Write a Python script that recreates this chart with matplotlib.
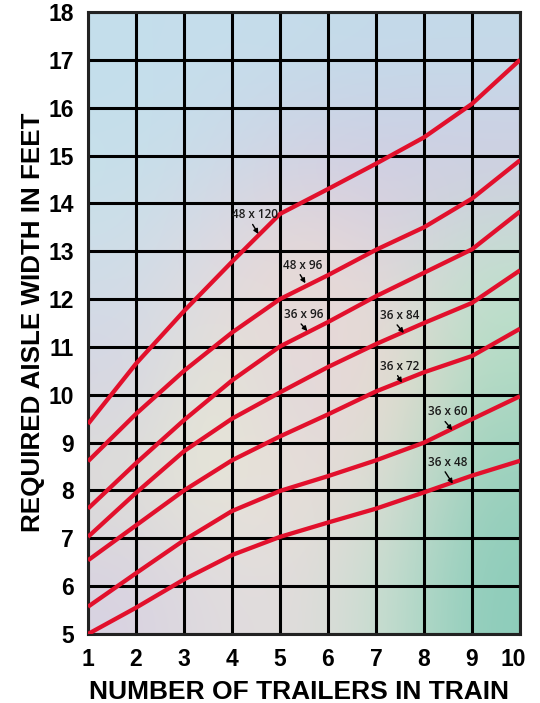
import numpy as np
import matplotlib
matplotlib.use("Agg")
import matplotlib.pyplot as plt
from matplotlib.transforms import ScaledTranslation

# ---- data ----
trailers = [1, 2, 3, 4, 5, 6, 7, 8, 9, 10]
w48x120 = [9.39, 10.65, 11.75, 12.78, 13.78, 14.3, 14.83, 15.38, 16.08, 17.0]
w48x96 = [8.61, 9.6, 10.5, 11.3, 12.0, 12.5, 13.03, 13.5, 14.1, 14.9]
w36x96 = [7.62, 8.57, 9.47, 10.3, 11.01, 11.52, 12.06, 12.55, 13.04, 13.83]
w36x84 = [7.03, 7.95, 8.82, 9.5, 10.05, 10.58, 11.06, 11.5, 11.92, 12.6]
w36x72 = [6.54, 7.27, 8.0, 8.63, 9.13, 9.59, 10.07, 10.47, 10.81, 11.38]
w36x60 = [5.57, 6.27, 6.96, 7.57, 7.99, 8.3, 8.63, 9.0, 9.49, 9.97]
w36x48 = [5.0, 5.55, 6.14, 6.65, 7.03, 7.33, 7.62, 7.96, 8.31, 8.62]
series = [w48x120, w48x96, w36x96, w36x84, w36x72, w36x60, w36x48]

labels = ["48 x 120", "48 x 96", "36 x 96", "36 x 84", "36 x 72", "36 x 60", "36 x 48"]
label_text_xy = [(4.48, 13.76), (5.47, 12.71), (5.49, 11.68), (7.49, 11.66),
                 (7.5, 10.6), (8.49, 9.64), (8.49, 8.59)]
label_tip_xy = [(4.55, 13.36), (5.53, 12.33), (5.57, 11.33), (7.58, 11.29),
                (7.54, 10.25), (8.59, 9.26), (8.6, 8.14)]

x_ticks = list(range(1, 11))
y_ticks = list(range(5, 19))

plt.rcParams['font.family'] = ['Liberation Sans', 'DejaVu Sans']

fig = plt.figure(figsize=(5.4, 7.03), dpi=100)
ax = fig.add_axes([88/540, 69/703, 432/540, 622/703])

# background gradient (rows top->bottom, cols left->right)
bg = np.array([
    [[196, 222, 236], [198, 222, 236], [196, 220, 234], [196, 218, 234], [196, 218, 233]],
    [[198, 224, 234], [204, 218, 232], [212, 206, 226], [208, 204, 226], [210, 204, 226]],
    [[208, 222, 232], [226, 214, 224], [238, 222, 208], [224, 214, 222], [194, 226, 206]],
    [[214, 212, 228], [230, 232, 212], [222, 210, 224], [238, 222, 206], [176, 218, 196]],
    [[222, 222, 214], [232, 232, 216], [232, 220, 216], [220, 222, 212], [152, 208, 188]],
    [[216, 210, 226], [224, 220, 222], [226, 220, 220], [196, 222, 206], [140, 204, 186]],
], dtype=float) / 255.0
ax.imshow(bg, extent=[1, 10, 5, 18], aspect='auto', interpolation='bicubic',
          origin='upper', zorder=0)

for v in x_ticks:
    ax.axvline(v, color='black', lw=2.2, zorder=1)
for v in y_ticks:
    ax.axhline(v, color='black', lw=2.2, zorder=1)

for s in series:
    ax.plot(trailers, s, color='#e2102c', lw=3.1, solid_capstyle='butt',
            solid_joinstyle='round', zorder=3)

for lab, (tx, ty), (px, py) in zip(labels, label_text_xy, label_tip_xy):
    ax.text(tx, ty, lab, ha='center', va='center', fontsize=8.5,
            family=['Open Sans', 'DejaVu Sans'], fontweight='semibold',
            color='#1a1a1a', zorder=4)
    ax.annotate('', xy=(px, py), xytext=(tx - 0.05, ty - 0.2),
                arrowprops=dict(arrowstyle='-|>', color='black', lw=1.0,
                                mutation_scale=7, shrinkA=0, shrinkB=0),
                zorder=4)

ax.set_xlim(1, 10)
ax.set_ylim(5, 18)
ax.set_xticks(x_ticks)
ax.set_yticks(y_ticks)
ax.tick_params(length=0, labelsize=16.5, pad=10)
for lbl in ax.get_xticklabels() + ax.get_yticklabels():
    lbl.set_fontweight('bold')
last = ax.get_xticklabels()[-1]
last.set_transform(last.get_transform() + ScaledTranslation(-7/100, 0, fig.dpi_scale_trans))
for sp in ax.spines.values():
    sp.set_linewidth(2.2)
    sp.set_color('#222222')

fig.text(33/540, 1 - 322/703, "REQUIRED AISLE WIDTH IN FEET", rotation=90,
         ha='center', va='center', fontsize=18.7, fontweight='bold')
fig.text(299/540, 1 - 692/703, "NUMBER OF TRAILERS IN TRAIN",
         ha='center', va='center', fontsize=19, fontweight='bold')

fig.savefig("out.png", dpi=100)
